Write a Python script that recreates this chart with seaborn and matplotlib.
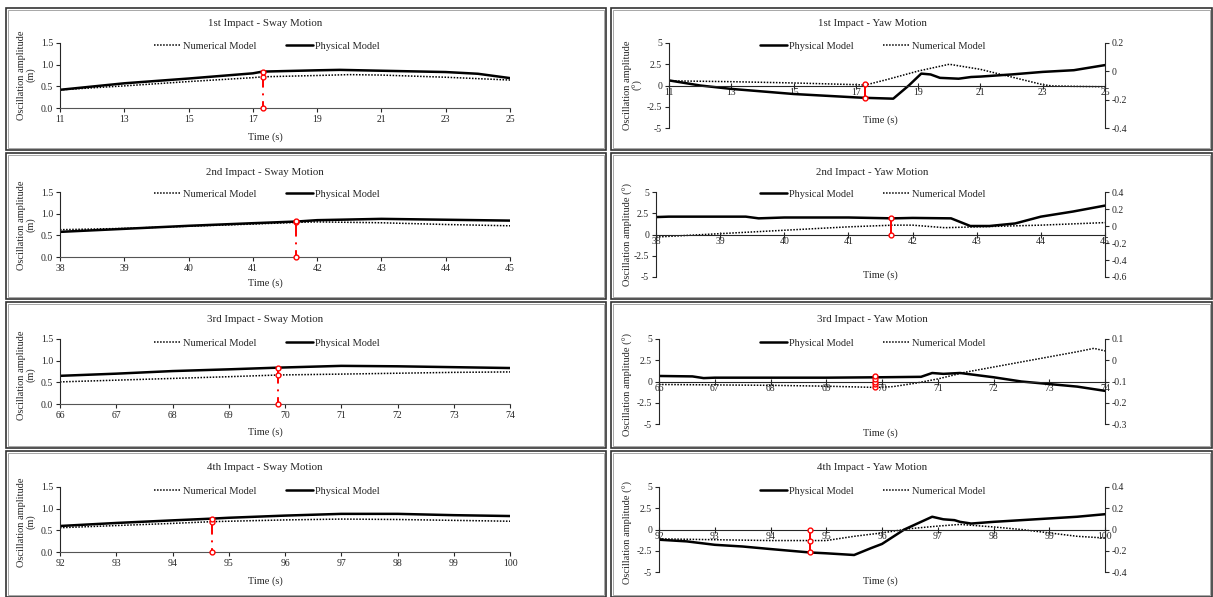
import numpy as np
import pandas as pd
import matplotlib
matplotlib.use("Agg")
import matplotlib.pyplot as plt
import seaborn as sns
from matplotlib.patches import Rectangle
from matplotlib.lines import Line2D

# ---- sway data (m) ----
sway1_t = [11, 13, 15, 17, 17.3, 19, 19.7, 21, 23, 24, 25]
sway1_phys = [0.42, 0.57, 0.68, 0.80, 0.84, 0.87, 0.88, 0.86, 0.83, 0.79, 0.69]
sway1_num_t = [11, 13, 15, 17, 17.3, 19, 20, 21, 23, 25]
sway1_num = [0.42, 0.51, 0.61, 0.70, 0.72, 0.75, 0.77, 0.76, 0.71, 0.645]

sway2_t = [38, 39, 40, 41, 41.7, 42, 43, 44, 45]
sway2_phys = [0.58, 0.65, 0.72, 0.78, 0.82, 0.85, 0.88, 0.86, 0.84]
sway2_num = [0.63, 0.66, 0.71, 0.76, 0.80, 0.81, 0.79, 0.75, 0.72]

sway3_t = [66, 67, 68, 69, 69.9, 71, 72, 73, 74]
sway3_phys = [0.65, 0.70, 0.76, 0.80, 0.84, 0.88, 0.87, 0.85, 0.83]
sway3_num = [0.51, 0.55, 0.59, 0.63, 0.67, 0.69, 0.71, 0.73, 0.74]

sway4_t = [92, 93, 94, 94.7, 95, 96, 97, 98, 99, 100]
sway4_phys = [0.60, 0.67, 0.73, 0.77, 0.79, 0.84, 0.88, 0.88, 0.85, 0.83]
sway4_num = [0.56, 0.61, 0.66, 0.70, 0.71, 0.74, 0.76, 0.75, 0.73, 0.71]

# impact instants and marker values (sway)
sway_mark_t = [17.3, 41.67, 69.88, 94.7]
sway_mark_num = [0.72, 0.80, 0.67, 0.70]
sway_mark_phys = [0.84, 0.82, 0.84, 0.77]

# ---- yaw data: physical on left axis (deg), numerical on right axis ----
yaw1_t = [11, 12, 13, 15, 16, 17, 17.3, 18.2, 18.7, 19.1, 19.4, 19.7, 20.3, 20.7, 21, 22, 23, 24, 25]
yaw1_phys = [0.6, 0.0, -0.4, -1.0, -1.2, -1.4, -1.45, -1.55, 0.0, 1.4, 1.3, 0.9, 0.8, 1.0, 1.05, 1.3, 1.6, 1.8, 2.4]
yaw1_num_t = [11, 13, 15, 17, 17.3, 18, 19, 20, 21, 22, 23, 23.3, 24, 25]
yaw1_num = [-0.067, -0.073, -0.082, -0.094, -0.097, -0.058, 0.002, 0.05, 0.014, -0.04, -0.094, -0.103, -0.106, -0.109]

yaw2_t = [38, 38.2, 39, 39.4, 39.6, 40, 41, 41.7, 42, 42.6, 42.9, 43.2, 43.6, 44, 44.5, 45]
yaw2_phys = [2.05, 2.1, 2.1, 2.1, 1.9, 2.0, 2.0, 1.9, 1.95, 1.9, 1.0, 1.0, 1.3, 2.1, 2.7, 3.4]
yaw2_num_t = [38, 39, 40, 41, 41.7, 42, 42.5, 43, 44, 45]
yaw2_num = [-0.13, -0.09, -0.05, -0.01, 0.01, 0.01, -0.02, -0.01, 0.01, 0.04]

yaw3_t = [66, 66.6, 66.8, 67, 68, 69, 70, 70.7, 70.9, 71.1, 71.4, 72, 72.5, 73, 73.5, 74]
yaw3_phys = [0.65, 0.6, 0.4, 0.45, 0.45, 0.45, 0.5, 0.55, 1.0, 0.9, 1.0, 0.5, 0.0, -0.3, -0.6, -1.1]
yaw3_num_t = [66, 67, 68, 69, 69.9, 70.2, 70.6, 71, 71.5, 72, 72.5, 73, 73.5, 73.8, 74]
yaw3_num = [-0.114, -0.116, -0.118, -0.122, -0.128, -0.124, -0.108, -0.088, -0.056, -0.032, -0.008, 0.016, 0.04, 0.056, 0.044]

yaw4_t = [92, 92.5, 93, 93.5, 94, 94.7, 95, 95.5, 95.8, 96, 96.4, 96.7, 96.9, 97.1, 97.3, 97.4, 97.6, 98, 98.5, 99, 99.5, 100]
yaw4_phys = [-1.2, -1.4, -1.8, -2.0, -2.3, -2.7, -2.8, -3.0, -2.2, -1.7, 0.0, 0.9, 1.5, 1.2, 1.1, 0.9, 0.7, 0.9, 1.1, 1.3, 1.5, 1.8]
yaw4_num_t = [92, 93, 94, 94.7, 95, 95.5, 96, 96.5, 97, 97.4, 98, 98.5, 99, 99.5, 100]
yaw4_num = [-0.088, -0.096, -0.104, -0.104, -0.104, -0.064, -0.032, 0.008, 0.032, 0.048, 0.024, 0.0, -0.032, -0.064, -0.08]

# marker circles for yaw (left-axis units)
yaw_mark_t = [17.3, 41.67, 69.88, 94.7]
yaw_mark_pts = [[-1.45, 0.2], [0.0, 2.0], [-0.7, -0.35, 0.0, 0.3, 0.6], [-2.7, -1.3, 0.0]]

titles_sway = ["1st Impact - Sway Motion", "2nd Impact - Sway Motion",
               "3rd Impact - Sway Motion", "4th Impact - Sway Motion"]
titles_yaw = ["1st Impact - Yaw Motion", "2nd Impact - Yaw Motion",
              "3rd Impact - Yaw Motion", "4th Impact - Yaw Motion"]
xranges = [(11, 25, 2), (38, 45, 1), (66, 74, 1), (92, 100, 1)]
right_ranges = [(-0.4, 0.2, 0.2), (-0.6, 0.4, 0.2), (-0.3, 0.1, 0.1), (-0.4, 0.4, 0.2)]

sway_sets = [(sway1_t, sway1_phys, sway1_num_t, sway1_num),
             (sway2_t, sway2_phys, sway2_t, sway2_num),
             (sway3_t, sway3_phys, sway3_t, sway3_num),
             (sway4_t, sway4_phys, sway4_t, sway4_num)]
yaw_sets = [(yaw1_t, yaw1_phys, yaw1_num_t, yaw1_num),
            (yaw2_t, yaw2_phys, yaw2_num_t, yaw2_num),
            (yaw3_t, yaw3_phys, yaw3_num_t, yaw3_num),
            (yaw4_t, yaw4_phys, yaw4_num_t, yaw4_num)]

sns.set_style("ticks")
plt.rcParams["font.family"] = ["Liberation Serif", "DejaVu Serif"]
plt.rcParams["axes.linewidth"] = 0.8

W, H = 1213, 597
fig = plt.figure(figsize=(W / 100, H / 100), dpi=100)


def fx(px):
    return px / W


def fy(py):
    return 1 - py / H


def box(x0, y0, x1, y1):
    return [fx(x0), fy(y1), fx(x1) - fx(x0), fy(y0) - fy(y1)]


# panel frames (double outline like the source layout)
row_frames = [(8, 150), (153, 299), (302, 448), (451, 597)]
for (y0, y1) in row_frames:
    for (x0, x1) in [(6, 606), (611, 1212)]:
        fig.patches.append(Rectangle((fx(x0), fy(y1)), fx(x1) - fx(x0), fy(y0) - fy(y1),
                                     transform=fig.transFigure, fill=False,
                                     edgecolor="#333333", linewidth=1.2))
        fig.patches.append(Rectangle((fx(x0 + 2), fy(y1 - 2)), fx(x1 - x0 - 4), fy(y0) - fy(y1 - 4),
                                     transform=fig.transFigure, fill=False,
                                     edgecolor="#999999", linewidth=0.6))

sway_rows = [(43, 108), (192, 257), (339, 404), (487, 552)]
yaw_rows = [(43, 128), (192, 277), (339, 424), (487, 572)]
yaw_left = [669, 656, 659, 659]
title_y = [24, 172, 320, 468]
legend_y = [46, 194, 343, 491]
sway_xlab_y = [137, 283, 432, 581]
yaw_xlab_y = [120, 275, 433, 581]
ylab_y = [75, 225, 375, 522]

FS = 7.5
TFS = 7
phys_style = dict(color="black", linewidth=1.8)
num_style = dict(color="black", linewidth=1.1, linestyle=(0, (1, 1)))

for i in range(4):
    # ---------------- sway ----------------
    t, phys, nt, num = sway_sets[i]
    top, bot = sway_rows[i]
    ax = fig.add_axes(box(60, top, 510, bot))
    sns.lineplot(x=nt, y=num, ax=ax, **num_style)
    sns.lineplot(x=t, y=phys, ax=ax, **phys_style)
    x0, x1, step = xranges[i]
    ax.set_xlim(x0, x1)
    ax.set_ylim(0, 1.5)
    ax.set_xticks(np.arange(x0, x1 + 0.01, step))
    ax.set_yticks([0, 0.5, 1.0, 1.5])
    ax.set_yticklabels(["0.0", "0.5", "1.0", "1.5"])
    ax.tick_params(labelsize=TFS, length=3, width=0.8, pad=2)
    sns.despine(ax=ax)
    ax.spines["bottom"].set_color("#555555")
    mt = sway_mark_t[i]
    ax.plot([mt, mt], [sway_mark_phys[i], 0], color="red", linewidth=1.4,
            linestyle=(0, (8, 3, 1, 3)), zorder=5)
    ax.plot([mt] * 3, [0, sway_mark_num[i], sway_mark_phys[i]], linestyle="none",
            marker="o", markersize=3.5, markerfacecolor="white", markeredgecolor="red",
            markeredgewidth=1.0, zorder=6, clip_on=False)
    fig.text(fx(265), fy(title_y[i]), titles_sway[i], ha="center", va="center", fontsize=7.8)
    fig.text(fx(265), fy(sway_xlab_y[i]), "Time (s)", ha="center", va="center", fontsize=FS)
    fig.text(fx(26), fy(ylab_y[i]), "Oscillation amplitude\n(m)", ha="center", va="center",
             rotation=90, fontsize=FS, linespacing=1.0)
    handles = [Line2D([], [], **num_style), Line2D([], [], **phys_style)]
    fig.legend(handles, ["Numerical Model", "Physical Model"], loc="center",
               bbox_to_anchor=(fx(267), fy(legend_y[i])), ncol=2, frameon=False,
               fontsize=FS, handlelength=2.6, handletextpad=0.2, columnspacing=2.8)

    # ---------------- yaw ----------------
    t, phys, nt, num = yaw_sets[i]
    top, bot = yaw_rows[i]
    ay = fig.add_axes(box(yaw_left[i], top, 1105, bot))
    sns.lineplot(x=t, y=phys, ax=ay, **phys_style)
    ay.set_xlim(x0, x1)
    ay.set_ylim(-5, 5)
    ay.set_xticks(np.arange(x0, x1 + 0.01, step))
    ay.set_yticks([-5, -2.5, 0, 2.5, 5])
    ay.set_yticklabels(["-5", "-2.5", "0", "2.5", "5"])
    ay.spines["top"].set_visible(False)
    ay.spines["right"].set_visible(False)
    ay.spines["bottom"].set_position(("data", 0))
    ay.tick_params(axis="x", direction="inout", length=4, labelsize=TFS, pad=0)
    ay.tick_params(axis="y", labelsize=TFS, length=3, pad=2)
    ar = ay.twinx()
    sns.lineplot(x=nt, y=num, ax=ar, **num_style)
    lo, hi, rstep = right_ranges[i]
    ar.set_ylim(lo, hi)
    rt = np.round(np.arange(lo, hi + 1e-9, rstep), 2)
    ar.set_yticks(rt)
    ar.set_yticklabels([("%g" % v) if v != 0 else "0" for v in rt])
    ar.set_ylabel("")
    ar.spines["top"].set_visible(False)
    ar.spines["left"].set_visible(False)
    ar.spines["bottom"].set_visible(False)
    ar.tick_params(labelsize=TFS, length=3, pad=2)
    mt = yaw_mark_t[i]
    pts = yaw_mark_pts[i]
    ay.plot([mt, mt], [min(pts), max(pts)], color="red", linewidth=1.4, zorder=5)
    ay.plot([mt] * len(pts), pts, linestyle="none", marker="o", markersize=3.5,
            markerfacecolor="white", markeredgecolor="red", markeredgewidth=1.0, zorder=6)
    ay.set_zorder(ar.get_zorder() + 1)
    ay.patch.set_visible(False)
    fig.text(fx(872), fy(title_y[i]), titles_yaw[i], ha="center", va="center", fontsize=7.8)
    fig.text(fx(880), fy(yaw_xlab_y[i]), "Time (s)", ha="center", va="center", fontsize=FS)
    ylab = "Oscillation amplitude\n(°)" if i == 0 else "Oscillation amplitude (°)"
    fig.text(fx(633 if i == 0 else 628), fy(ylab_y[i] + 10), ylab, ha="center", va="center",
             rotation=90, fontsize=FS, linespacing=1.0)
    handles = [Line2D([], [], **phys_style), Line2D([], [], **num_style)]
    fig.legend(handles, ["Physical Model", "Numerical Model"], loc="center",
               bbox_to_anchor=(fx(873), fy(legend_y[i])), ncol=2, frameon=False,
               fontsize=FS, handlelength=2.6, handletextpad=0.2, columnspacing=2.8)

fig.savefig("out.png", dpi=100)
